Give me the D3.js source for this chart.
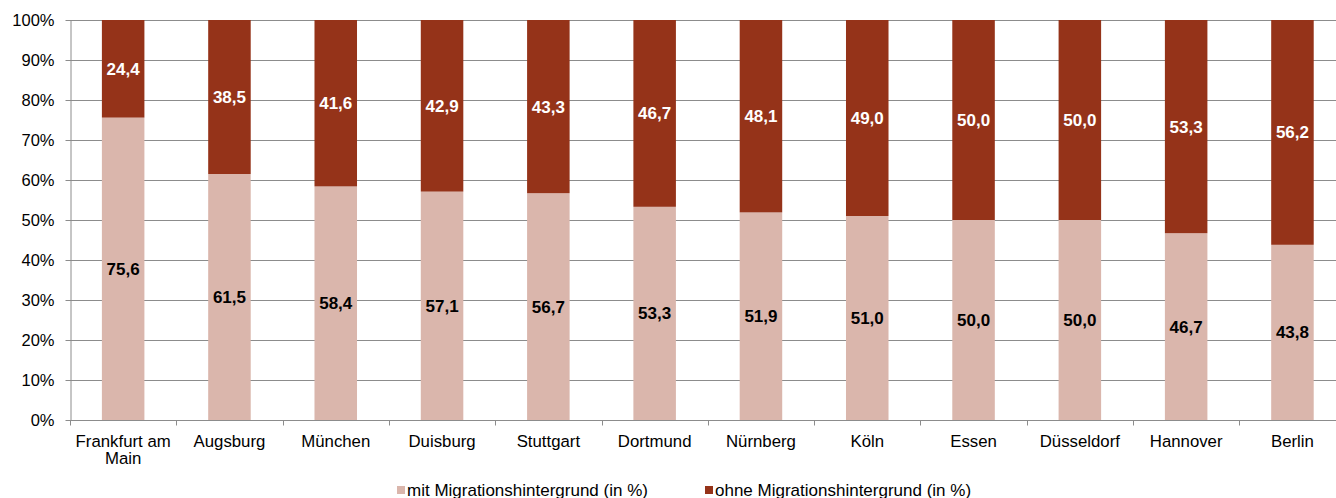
<!DOCTYPE html>
<html><head><meta charset="utf-8">
<script src="https://cdn.jsdelivr.net/npm/d3@7"></script>
<style>body{margin:0;background:#fff;overflow:hidden}svg{display:block;font-family:"Liberation Sans",Arial,sans-serif}</style>
</head><body><svg id="c" width="1336" height="498"></svg>
<script>
const categories = [["Frankfurt am","Main"],["Augsburg"],["München"],["Duisburg"],["Stuttgart"],["Dortmund"],["Nürnberg"],["Köln"],["Essen"],["Düsseldorf"],["Hannover"],["Berlin"]];
const mitValues = [75.6,61.5,58.4,57.1,56.7,53.3,51.9,51.0,50.0,50.0,46.7,43.8];
const ohneValues = [24.4,38.5,41.6,42.9,43.3,46.7,48.1,49.0,50.0,50.0,53.3,56.2];
const seriesNames = ["mit Migrationshintergrund (in %)","ohne Migrationshintergrund (in %)"];
const yTicks = [0,10,20,30,40,50,60,70,80,90,100];

const svg = d3.select("#c");
const plotLeft = 70, step = 106.3, plotTop = 20, plotBottom = 420;
const x = d3.scaleBand().domain(d3.range(categories.length)).range([plotLeft, plotLeft + step*categories.length]).paddingInner(0.6).paddingOuter(0.3);
const y = d3.scaleLinear().domain([0,100]).range([plotBottom, plotTop]);
const colors = ["#DAB6AC", "#953319"];
const fmt = v => d3.format(".1f")(v).replace(".", ",");

// gridlines
svg.append("g").selectAll("line").data(yTicks.filter(d=>d>0)).join("line")
  .attr("x1", plotLeft).attr("x2", 1336).attr("y1", d=>y(d)+0.5).attr("y2", d=>y(d)+0.5)
  .attr("stroke", "#8c8c8c").attr("stroke-width", 1);

// y axis
const yAx = svg.append("g").attr("transform", `translate(${plotLeft+0.5},0)`)
  .call(d3.axisLeft(y).tickValues(yTicks).tickSize(5).tickSizeOuter(0).tickFormat(d=>d+"%"));
yAx.select(".domain").attr("stroke", "#8c8c8c");
yAx.selectAll(".tick line").attr("stroke", "#8c8c8c");
yAx.selectAll("text").attr("font-size", 16.5).attr("fill", "#000").attr("x", -16).attr("font-family", '"Liberation Sans",Arial,sans-serif');

// bars
const stacks = categories.map((c,i)=>({i, mit: mitValues[i], ohne: ohneValues[i]}));
const g = svg.append("g");
g.selectAll("rect.mit").data(stacks).join("rect").attr("class","mit")
  .attr("x", d=>x(d.i)).attr("width", x.bandwidth())
  .attr("y", d=>y(d.mit)).attr("height", d=>y(0)-y(d.mit)).attr("fill", colors[0]);
g.selectAll("rect.ohne").data(stacks).join("rect").attr("class","ohne")
  .attr("x", d=>x(d.i)).attr("width", x.bandwidth())
  .attr("y", d=>y(d.mit+d.ohne)).attr("height", d=>y(d.mit)-y(d.mit+d.ohne)).attr("fill", colors[1]);

// labels
g.selectAll("text.mit").data(stacks).join("text").attr("class","mit")
  .attr("x", d=>x(d.i)+x.bandwidth()/2).attr("y", d=>y(d.mit/2)).attr("dy","0.35em")
  .attr("text-anchor","middle").attr("font-size",17).attr("font-weight","bold").attr("fill","#000")
  .text(d=>fmt(d.mit));
g.selectAll("text.ohne").data(stacks).join("text").attr("class","ohne")
  .attr("x", d=>x(d.i)+x.bandwidth()/2).attr("y", d=>y(d.mit + d.ohne/2)).attr("dy","0.35em")
  .attr("text-anchor","middle").attr("font-size",17).attr("font-weight","bold").attr("fill","#fff")
  .text(d=>fmt(d.ohne));

// x axis
const xAx = svg.append("g").attr("transform", `translate(0,${plotBottom+0.5})`);
xAx.append("line").attr("x1", plotLeft).attr("x2", 1336).attr("stroke", "#8c8c8c");
xAx.selectAll("line.tk").data(d3.range(categories.length+1)).join("line").attr("class","tk")
  .attr("x1", i=>Math.round(plotLeft + i*step)+0.5).attr("x2", i=>Math.round(plotLeft + i*step)+0.5)
  .attr("y1", 0).attr("y2", 5).attr("stroke", "#8c8c8c");
const xl = xAx.selectAll("text").data(categories).join("text")
  .attr("text-anchor","middle").attr("font-size",16.8).attr("fill","#000")
  .attr("transform", (d,i)=>`translate(${x(i)+x.bandwidth()/2},0)`);
xl.selectAll("tspan").data(d=>d).join("tspan").attr("x",0).attr("y",(d,j)=>26+j*17.5).text(d=>d);

// legend
const leg = svg.append("g").attr("transform","translate(397,492)");
const legX = [0, 308];
seriesNames.forEach((n,i)=>{
  leg.append("rect").attr("x", legX[i]).attr("y", -6).attr("width", 8).attr("height", 8).attr("fill", colors[i]);
  leg.append("text").attr("x", legX[i]+10).attr("y", 4).attr("font-size", 17).attr("fill","#000").text(n);
});
</script></body></html>
